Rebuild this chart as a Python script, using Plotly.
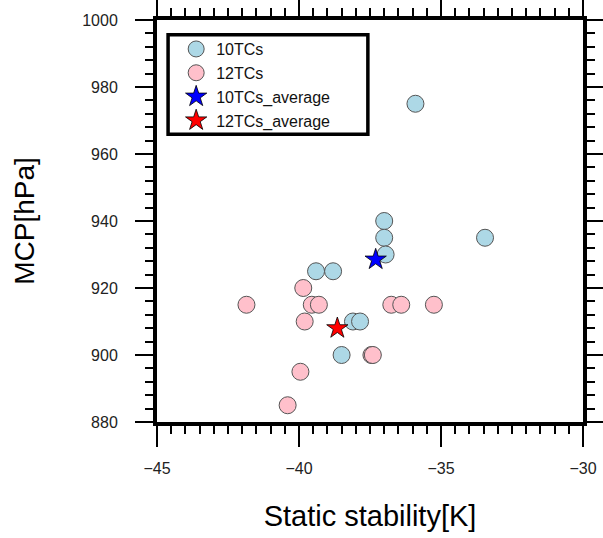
import plotly.graph_objects as go

# Static stability [K] vs. minimum central pressure [hPa]
ten_x = [-37.0, -37.0, -36.95, -33.45, -39.4, -38.8, -38.1, -37.85, -38.5, -35.9]
ten_y = [940, 935, 930, 935, 925, 925, 910, 910, 900, 975]

twelve_x = [-41.85, -39.85, -39.55, -39.3, -39.8, -36.75, -36.4, -35.25,
            -37.45, -37.4, -39.95, -40.4]
twelve_y = [915, 920, 915, 915, 910, 915, 915, 915, 900, 900, 895, 885]

ten_avg_x = [-37.3]
ten_avg_y = [928.5]
twelve_avg_x = [-38.65]
twelve_avg_y = [908.0]

x_ticks = [-45, -40, -35, -30]
y_ticks = [880, 900, 920, 940, 960, 980, 1000]

FONT = "Liberation Sans, Arial, sans-serif"

fig = go.Figure()

fig.add_trace(go.Scatter(
    x=ten_x, y=ten_y, mode="markers", name="10TCs",
    marker=dict(symbol="circle", size=17, color="#ADD8E6",
                line=dict(color="#555555", width=1)),
))
fig.add_trace(go.Scatter(
    x=twelve_x, y=twelve_y, mode="markers", name="12TCs",
    marker=dict(symbol="circle", size=17, color="#FFC0CB",
                line=dict(color="#555555", width=1)),
))
fig.add_trace(go.Scatter(
    x=ten_avg_x, y=ten_avg_y, mode="markers", name="10TCs_average",
    marker=dict(symbol="star", size=16, color="#0000FF",
                line=dict(color="#000000", width=0.8)),
))
fig.add_trace(go.Scatter(
    x=twelve_avg_x, y=twelve_avg_y, mode="markers", name="12TCs_average",
    marker=dict(symbol="star", size=16, color="#FF0000",
                line=dict(color="#000000", width=0.8)),
))

axis_common = dict(
    showline=True, linecolor="black", linewidth=4, mirror="allticks",
    ticks="outside", tickcolor="black", tickwidth=2,
    showgrid=False, zeroline=False, automargin=False,
    tickfont=dict(family=FONT, size=16, color="#222222"),
)

fig.update_xaxes(
    range=[-45, -30], tickvals=x_ticks, ticklen=21,
    minor=dict(dtick=0.5, ticklen=8, ticks="outside", tickcolor="black",
               tickwidth=2, showgrid=False),
    ticklabelstandoff=8,
    title=dict(text="Static stability[K]", font=dict(family=FONT, size=29, color="black"),
               standoff=30),
    **axis_common,
)
fig.update_yaxes(
    range=[880, 1000], tickvals=y_ticks, ticklen=18,
    minor=dict(dtick=4, ticklen=8, ticks="outside", tickcolor="black",
               tickwidth=2, showgrid=False),
    ticklabelstandoff=14,
    title=dict(text="MCP[hPa]", font=dict(family=FONT, size=28, color="black"),
               standoff=40),
    **axis_common,
)

# Frame around the legend
fig.add_shape(type="rect", xref="paper", yref="paper",
              x0=0.026, x1=0.495, y0=0.716, y1=0.963,
              line=dict(color="black", width=3.5), fillcolor="rgba(0,0,0,0)")

fig.update_layout(
    width=603, height=538,
    margin=dict(l=157, r=20, t=20, b=116),
    paper_bgcolor="white", plot_bgcolor="white",
    showlegend=True,
    legend=dict(x=0.045, y=0.97, xanchor="left", yanchor="top",
                bgcolor="rgba(0,0,0,0)", borderwidth=0,
                font=dict(family=FONT, size=16, color="#111111"),
                tracegroupgap=0, itemclick=False),
)

fig.write_html("out.html")
